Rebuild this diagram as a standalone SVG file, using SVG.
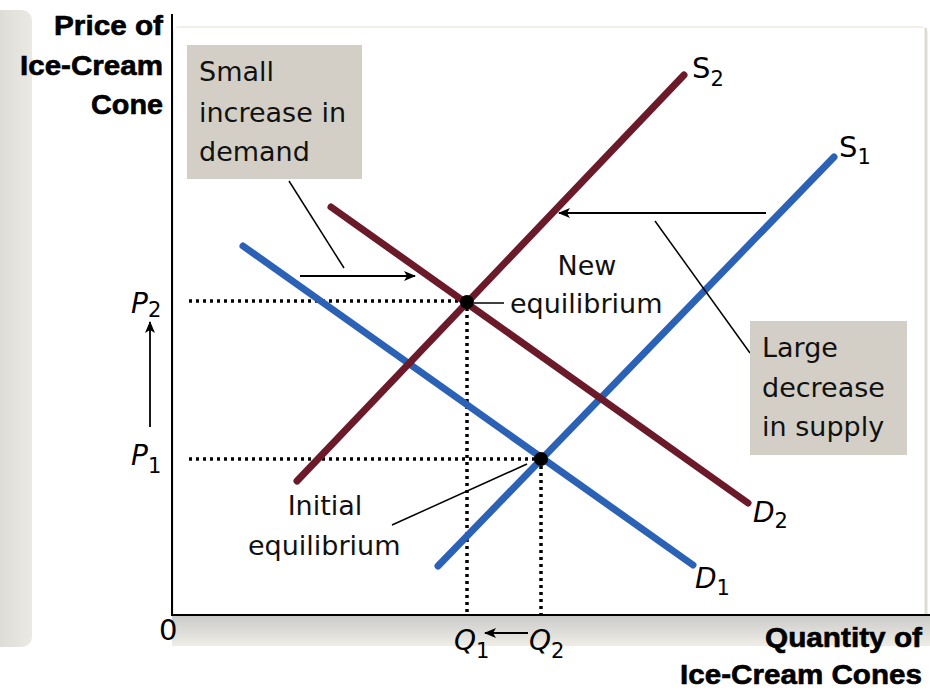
<svg xmlns="http://www.w3.org/2000/svg" width="930" height="690" viewBox="0 0 930 690">
<defs>
<linearGradient id="band" x1="0" y1="0" x2="0" y2="1">
<stop offset="0" stop-color="#cbcbca"/>
<stop offset="1" stop-color="#efede6"/>
</linearGradient>
<linearGradient id="leftp" x1="0" y1="0" x2="1" y2="0">
<stop offset="0" stop-color="#d0d0ce"/>
<stop offset="0.35" stop-color="#dfded9"/>
<stop offset="1" stop-color="#ebe9e2"/>
</linearGradient>
<marker id="ah" viewBox="0 0 12 10" refX="11" refY="5" markerWidth="12" markerHeight="10" markerUnits="userSpaceOnUse" orient="auto">
<path d="M0,0 L12,5 L0,10 L3,5 Z" fill="#000"/>
</marker>
<style>
.curve{fill:none;stroke-width:7;stroke-linecap:round}
.blue{stroke:#2b62b5}
.red{stroke:#6b1a2a}
.dot{fill:none;stroke:#000;stroke-width:3.5;stroke-dasharray:3 4}
.lead{fill:none;stroke:#000;stroke-width:1.5}
.arr{fill:none;stroke:#000;stroke-width:1.8;marker-end:url(#ah)}
.box{fill:#d3cfc6}
.lbl{font-family:"DejaVu Sans",sans-serif;font-size:27px;fill:#111}
.ax{font-family:"Liberation Sans",Arial,sans-serif;font-weight:bold;font-size:28px;fill:#000;stroke:#000;stroke-width:0.6}
.m{font-family:"DejaVu Sans",sans-serif;font-style:oblique;font-size:28px;fill:#000}
.up{font-family:"DejaVu Sans",sans-serif;font-size:29px;fill:#000}
.sub{font-size:21px;font-style:normal}
</style>
</defs>
<g id="background">
<rect x="-12" y="10" width="44" height="637" rx="10" fill="url(#leftp)"/>
<rect x="172" y="26" width="756" height="620" rx="8" fill="#f1efe9"/>
<rect x="174" y="28" width="750" height="588" fill="#ffffff"/>
<rect x="172" y="616" width="758" height="30" fill="url(#band)"/>
<line x1="926" y1="28" x2="926" y2="616" stroke="#dcdad3" stroke-width="2"/>
</g>
<g id="axes">
<line x1="172" y1="14" x2="172" y2="616" stroke="#000" stroke-width="2"/>
<line x1="171" y1="615" x2="930" y2="615" stroke="#000" stroke-width="2"/>
<text class="ax" text-anchor="end" x="163" y="35" textLength="109" lengthAdjust="spacingAndGlyphs">Price of</text>
<text class="ax" text-anchor="end" x="163" y="75" textLength="143" lengthAdjust="spacingAndGlyphs">Ice-Cream</text>
<text class="ax" text-anchor="end" x="163" y="114" textLength="72" lengthAdjust="spacingAndGlyphs">Cone</text>
<text class="ax" text-anchor="end" x="922" y="647" textLength="157" lengthAdjust="spacingAndGlyphs">Quantity of</text>
<text class="ax" text-anchor="end" x="922" y="684" textLength="242" lengthAdjust="spacingAndGlyphs">Ice-Cream Cones</text>
<text class="up" x="159" y="640" font-size="25">0</text>
</g>
<g id="guides">
<line class="dot" x1="189" y1="301" x2="464" y2="301"/>
<line class="dot" x1="467" y1="308" x2="467" y2="614"/>
<line class="dot" x1="189" y1="459" x2="538" y2="459"/>
<line class="dot" x1="541" y1="466" x2="541" y2="614"/>
</g>
<g id="curve-D1"><line class="curve blue" x1="243" y1="246" x2="693" y2="565"/></g>
<g id="curve-S1"><line class="curve blue" x1="438" y1="566" x2="834" y2="157"/></g>
<g id="curve-D2"><line class="curve red" x1="331" y1="207" x2="748" y2="503"/></g>
<g id="curve-S2"><line class="curve red" x1="297" y1="481" x2="684" y2="75"/></g>
<g id="eq-new"><circle cx="467" cy="302" r="7" fill="#000"/></g>
<g id="eq-initial"><circle cx="541" cy="459" r="7" fill="#000"/></g>
<g id="connectors">
<line class="lead" x1="474" y1="303" x2="504" y2="303"/>
<line class="lead" x1="392" y1="525" x2="527" y2="464"/>
<line class="lead" x1="289" y1="181" x2="344" y2="268"/>
<line class="arr" x1="300" y1="276" x2="415" y2="276"/>
<line class="lead" x1="655" y1="221" x2="750" y2="353"/>
<line class="arr" x1="766" y1="213" x2="559" y2="213"/>
<line class="arr" x1="150" y1="427" x2="150" y2="322"/>
<line class="arr" x1="528" y1="633" x2="485" y2="633"/>
</g>
<g id="label-small">
<rect class="box" x="187" y="45" width="175" height="134"/>
<text class="lbl" x="199" y="81">Small</text>
<text class="lbl" x="199" y="122">increase in</text>
<text class="lbl" x="199" y="161">demand</text>
</g>
<g id="label-large">
<rect class="box" x="750" y="321" width="157" height="134"/>
<text class="lbl" x="762" y="357">Large</text>
<text class="lbl" x="762" y="397">decrease</text>
<text class="lbl" x="762" y="436">in supply</text>
</g>
<g id="label-new">
<text class="lbl" x="587" y="275" text-anchor="middle">New</text>
<text class="lbl" x="510" y="313">equilibrium</text>
</g>
<g id="label-initial">
<text class="lbl" x="325" y="515" text-anchor="middle">Initial</text>
<text class="lbl" x="248" y="555">equilibrium</text>
</g>
<g id="curve-labels">
<text class="up" x="692" y="78">S<tspan class="sub" dy="8">2</tspan></text>
<text class="up" x="839" y="157">S<tspan class="sub" dy="7">1</tspan></text>
<text class="m" x="753" y="522">D<tspan class="sub" dy="6">2</tspan></text>
<text class="m" x="695" y="588">D<tspan class="sub" dy="7">1</tspan></text>
<text class="m" x="131" y="313">P<tspan class="sub" dy="4">2</tspan></text>
<text class="m" x="131" y="465">P<tspan class="sub" dy="8">1</tspan></text>
<text class="m" x="454" y="650">Q<tspan class="sub" dy="8">1</tspan></text>
<text class="m" x="529" y="650">Q<tspan class="sub" dy="8">2</tspan></text>
</g>
</svg>
